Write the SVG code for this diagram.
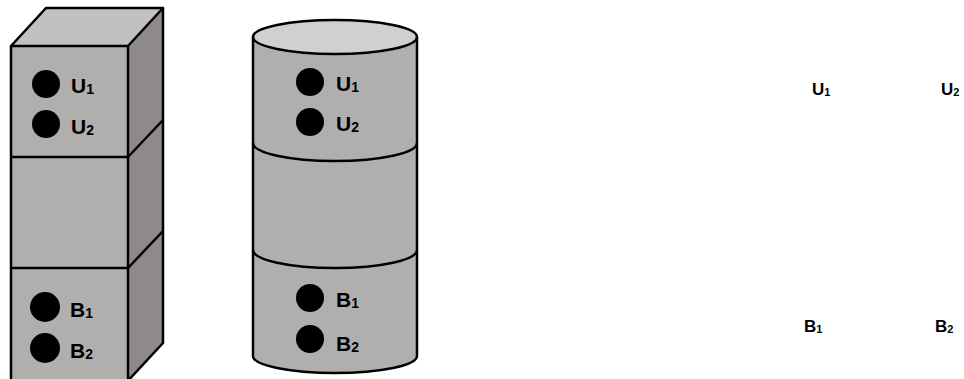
<svg xmlns="http://www.w3.org/2000/svg" width="964" height="379" viewBox="0 0 964 379">
  <style>
    .edge { stroke: #000; stroke-width: 2.5; stroke-linejoin: round; fill: none; }
    .front { fill: #b1aeae; }
    .side { fill: #8e8a8a; }
    .top { fill: #c3c0c0; }
    .cyl { fill: #b1aeae; }
    .dot { fill: #000; }
    .lbl { font-family: "Liberation Sans", Arial, sans-serif; font-weight: bold; font-size: 21px; fill: #000; }
    .sub { font-size: 14px; }
    .lbl-s { font-family: "Liberation Sans", Arial, sans-serif; font-weight: bold; font-size: 17px; fill: #000; }
    .sub-s { font-size: 11px; }
  </style>

  <!-- stacked cube -->
  <g id="cube">
    <rect class="front" x="11" y="46" width="117" height="340"/>
    <polygon class="top" points="11,46 46,8 163,8 128,46"/>
    <polygon class="side" points="128,46 163,8 163,343 128,381"/>
    <polygon class="edge" points="11,46 46,8 163,8 128,46"/>
    <path class="edge" d="M11,46 V386 M128,46 V386 M163,8 V343 L125,384"/>
    <path class="edge" d="M11,157 H128 L163,120 M11,268 H128 L163,231"/>
  </g>
  <g id="cube-u">
    <circle class="dot" cx="46" cy="84" r="14"/>
    <circle class="dot" cx="46" cy="124" r="14"/>
    <text class="lbl" x="71" y="93">U<tspan class="sub" dy="1">1</tspan></text>
    <text class="lbl" x="71" y="134">U<tspan class="sub" dy="1">2</tspan></text>
  </g>
  <g id="cube-b">
    <circle class="dot" cx="45" cy="307" r="15"/>
    <circle class="dot" cx="45" cy="348" r="15"/>
    <text class="lbl" x="70" y="317">B<tspan class="sub" dy="1">1</tspan></text>
    <text class="lbl" x="70" y="358">B<tspan class="sub" dy="1">2</tspan></text>
  </g>

  <!-- stacked cylinder -->
  <g id="cylinder">
    <path class="cyl" d="M253,37 V356 A82,17 0 0 0 417,356 V37 Z"/>
    <ellipse class="edge" cx="335" cy="37" rx="82" ry="17" style="fill:#d2cfcf"/>
    <path class="edge" d="M253,37 V356 A82,17 0 0 0 417,356 V37"/>
    <path class="edge" d="M253,143 A82,18 0 0 0 417,143 M253,250 A82,18 0 0 0 417,250"/>
  </g>
  <g id="cylinder-u">
    <circle class="dot" cx="310" cy="82" r="14"/>
    <circle class="dot" cx="310" cy="122" r="14"/>
    <text class="lbl" x="336" y="91">U<tspan class="sub" dy="1">1</tspan></text>
    <text class="lbl" x="336" y="131">U<tspan class="sub" dy="1">2</tspan></text>
  </g>
  <g id="cylinder-b">
    <circle class="dot" cx="310" cy="298" r="14"/>
    <circle class="dot" cx="310" cy="339" r="14"/>
    <text class="lbl" x="336" y="307">B<tspan class="sub" dy="1">1</tspan></text>
    <text class="lbl" x="336" y="351">B<tspan class="sub" dy="1">2</tspan></text>
  </g>

  <!-- loose labels -->
  <g id="labels">
    <text class="lbl-s" x="812" y="95">U<tspan class="sub-s" dy="1">1</tspan></text>
    <text class="lbl-s" x="941" y="95">U<tspan class="sub-s" dy="1">2</tspan></text>
    <text class="lbl-s" x="804" y="332">B<tspan class="sub-s" dy="1">1</tspan></text>
    <text class="lbl-s" x="935" y="332">B<tspan class="sub-s" dy="1">2</tspan></text>
  </g>
</svg>
